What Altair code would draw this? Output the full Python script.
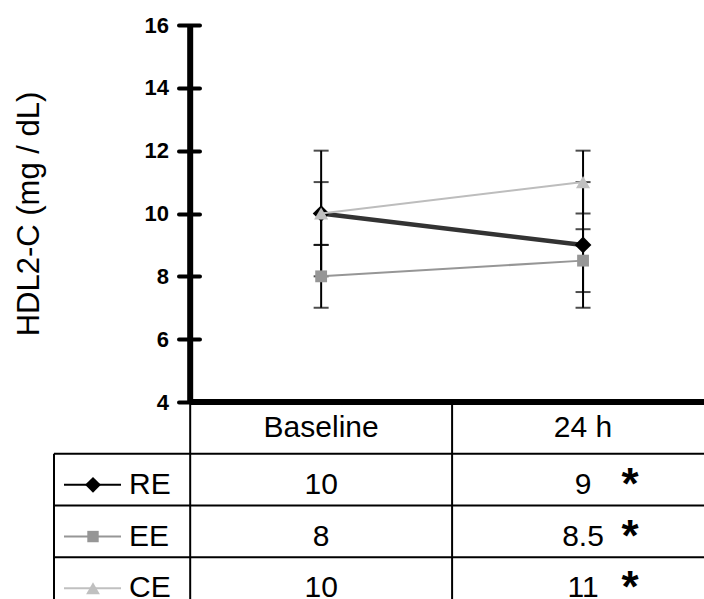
import altair as alt
import pandas as pd

# ---------------- data ----------------
categories = ["Baseline", "24 h"]
series = ["RE", "EE", "CE"]
re_vals = [10, 9]
ee_vals = [8, 8.5]
ce_vals = [10, 11]
re_err = [1, 2]
ee_err = [1, 1]
ce_err = [2, 1]
sig_marks = ["", "*"]
y_ticks = [4, 6, 8, 10, 12, 14, 16]
y_title = "HDL2-C (mg / dL)"

# ---------------- styles ----------------
line_colors = {"RE": "#333333", "EE": "#969696", "CE": "#bdbdbd"}
marker_colors = {"RE": "#000000", "EE": "#969696", "CE": "#c0c0c0"}
shapes = {"RE": "diamond", "EE": "square", "CE": "triangle-up"}
line_widths = {"RE": 4.5, "EE": 2, "CE": 2}
marker_sizes = {"RE": 280, "EE": 140, "CE": 200}
legend_sizes = {"RE": 250, "EE": 130, "CE": 190}
FONT = "Liberation Sans"

rows = []
for si, (s, vals, errs) in enumerate(zip(series, [re_vals, ee_vals, ce_vals],
                                         [re_err, ee_err, ce_err])):
    for ci, c in enumerate(categories):
        v = vals[ci]
        rows.append(dict(series=s, order=si, cat=c, xi=ci, value=v,
                         lo=v - errs[ci], hi=v + errs[ci],
                         label=f"{v:g}", sig=sig_marks[ci],
                         ty=si + 1 + 0.6))
df = pd.DataFrame(rows)

x_scale = alt.Scale(domain=[-1.02, 1.5], range=[0, 660], nice=False, zero=False)
y_scale = alt.Scale(domain=[4, 16], range=[377, 0], nice=False, zero=False)
t_scale = alt.Scale(domain=[0, 4], range=[377, 584], nice=False, zero=False)

X = alt.X("xi:Q", scale=x_scale, axis=None)

y_axis = alt.Axis(values=y_ticks, offset=-145.5, domain=False, grid=False,
                  tickSize=21, tickWidth=4, tickColor="black", tickCap="round",
                  labelPadding=10, labelFont=FONT, labelFontSize=22,
                  labelFontWeight="bold", labelColor="black",
                  labelFlush=False, labelOverlap=False, labelBound=False,
                  title=y_title, titleFont=FONT, titleFontSize=31,
                  titleFontWeight="normal", titleColor="black",
                  titleX=-170.5, titleY=188.5, titleAngle=270,
                  titleBaseline="middle", titleAlign="center")

# ---------- plot layers ----------
err_rule = alt.Chart(df).mark_rule(color="black", strokeWidth=2).encode(
    x=X, y=alt.Y("lo:Q", scale=y_scale, axis=y_axis), y2="hi:Q")
caps = alt.Chart(df).transform_fold(["lo", "hi"], as_=["k", "ev"]).mark_tick(
    orient="horizontal", size=15, thickness=2, color="black").encode(
    x=X, y=alt.Y("ev:Q", scale=y_scale))

axis_df = pd.DataFrame({"x": [-0.5], "x2": [1.5], "y0": [y_ticks[0]], "y1": [y_ticks[-1]]})
axis_line = alt.Chart(axis_df).mark_rule(color="black", strokeWidth=6).encode(
    x=alt.X("x:Q", scale=x_scale, axis=None), y=alt.Y("y0:Q", scale=y_scale), y2="y1:Q")
base_line = alt.Chart(axis_df).mark_rule(color="black", strokeWidth=6).encode(
    x=alt.X("x:Q", scale=x_scale, axis=None), x2="x2:Q", y=alt.Y("y0:Q", scale=y_scale))

series_layers = []
for s in series:
    d = df[df.series == s]
    series_layers.append(alt.Chart(d).mark_line(
        color=line_colors[s], strokeWidth=line_widths[s]).encode(
        x=X, y=alt.Y("value:Q", scale=y_scale)))
    series_layers.append(alt.Chart(d).mark_point(
        filled=True, opacity=1, shape=shapes[s], size=marker_sizes[s],
        color=marker_colors[s]).encode(x=X, y=alt.Y("value:Q", scale=y_scale)))

plot = alt.layer(err_rule, caps, *series_layers, axis_line, base_line)

# ---------- table layers ----------
table_cols = [-1.02, -0.5, 0.5]
vl_df = pd.DataFrame({"x": table_cols, "r1": [1, 0, 0], "r2": [4.2, 4.2, 4.2]})
hl_df = pd.DataFrame({"r": [1, 2, 3, 4], "x1": [-1.02] * 4, "x2": [1.6] * 4})
hdr_df = pd.DataFrame({"xi": [0, 1], "cat": categories, "ty": [0.5, 0.5]})

vlines = alt.Chart(vl_df).mark_rule(color="black", strokeWidth=2).encode(
    x=alt.X("x:Q", scale=x_scale, axis=None),
    y=alt.Y("r1:Q", scale=t_scale, axis=None), y2="r2:Q")
hlines = alt.Chart(hl_df).mark_rule(color="black", strokeWidth=2).encode(
    x=alt.X("x1:Q", scale=x_scale, axis=None), x2="x2:Q",
    y=alt.Y("r:Q", scale=t_scale, axis=None))

txt = dict(font=FONT, fontSize=30, color="black", baseline="middle")
header = alt.Chart(hdr_df).mark_text(**txt).encode(
    x=X, y=alt.Y("ty:Q", scale=t_scale, axis=None), text="cat:N")
values = alt.Chart(df).mark_text(**txt).encode(
    x=X, y=alt.Y("ty:Q", scale=t_scale, axis=None), text="label:N")
stars = alt.Chart(df[df.sig != ""]).mark_text(
    font=FONT, fontSize=44, fontWeight="bold", color="black",
    baseline="alphabetic", dx=47, dy=14).encode(
    x=X, y=alt.Y("ty:Q", scale=t_scale, axis=None), text="sig:N")

leg_df = df[df.xi == 0]
leg_layers = []
for s in series:
    d = leg_df[leg_df.series == s]
    leg_layers.append(alt.Chart(d).mark_rule(
        color=marker_colors[s] if s != "RE" else "black", strokeWidth=2).encode(
        x=alt.value(10), x2=alt.value(67),
        y=alt.Y("ty:Q", scale=t_scale, axis=None)))
    leg_layers.append(alt.Chart(d).mark_point(
        filled=True, opacity=1, shape=shapes[s], size=legend_sizes[s],
        color=marker_colors[s]).encode(
        x=alt.value(39), y=alt.Y("ty:Q", scale=t_scale, axis=None)))
labels = alt.Chart(leg_df).mark_text(align="left", **txt).encode(
    x=alt.value(75), y=alt.Y("ty:Q", scale=t_scale, axis=None), text="series:N")

table = alt.layer(vlines, hlines, header, values, stars, *leg_layers, labels)

chart = alt.layer(plot, table).resolve_scale(y="independent").properties(
    width=650, height=574, autosize="none",
    padding={"left": 54, "top": 25, "right": 0, "bottom": 0},
    background="white",
).configure_view(strokeWidth=0)

chart.save("out.html", embed_options={"renderer": "svg", "actions": False})
